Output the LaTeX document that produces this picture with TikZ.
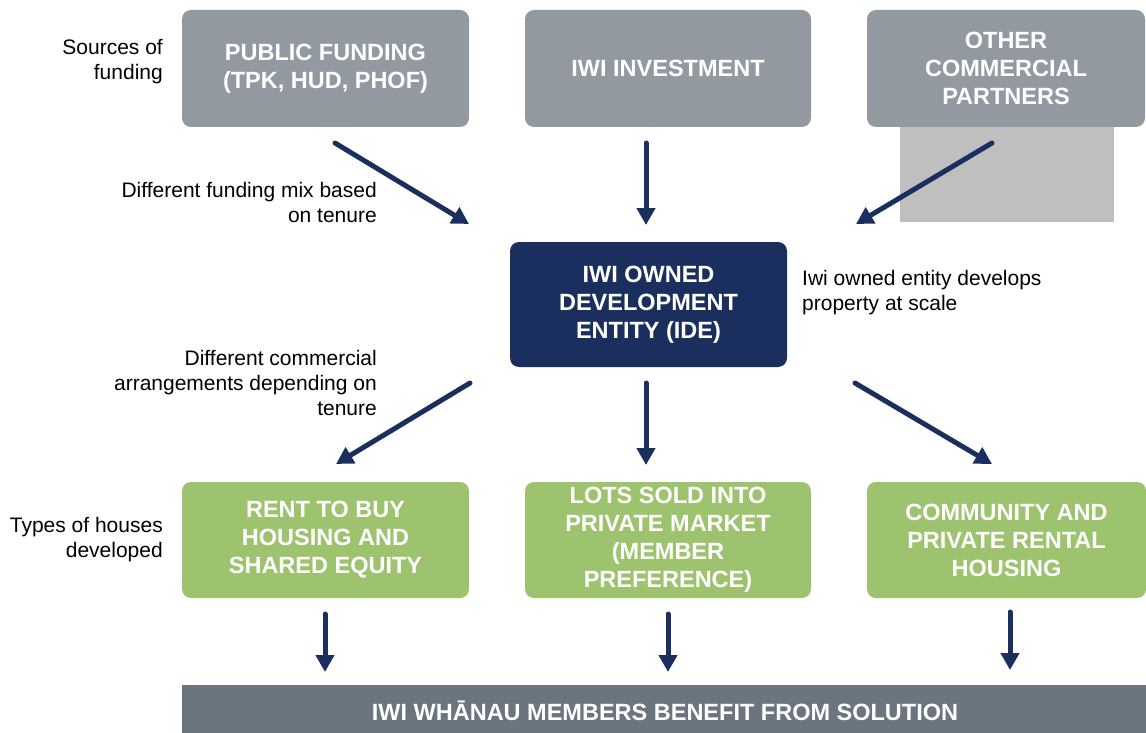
\documentclass[tikz,border=0pt]{standalone}
\usepackage{fontspec}
\setmainfont{Liberation Sans}
\usetikzlibrary{arrows.meta}

\definecolor{srcgray}{HTML}{9299A1}
\definecolor{backgray}{HTML}{BFBFBF}
\definecolor{idenavy}{HTML}{1B2F5E}
\definecolor{housegreen}{HTML}{9DC36E}
\definecolor{bargray}{HTML}{6B7580}

\tikzset{
  box/.style={rounded corners=9pt, inner sep=0pt, align=center, text=white,
    font=\fontsize{23.5}{28}\selectfont\bfseries},
  srcbox/.style={box, fill=srcgray, minimum height=117pt},
  housebox/.style={box, fill=housegreen, minimum height=116pt},
  idebox/.style={box, fill=idenavy, minimum width=277pt, minimum height=125pt},
  note/.style={inner sep=0pt, text=black, font=\fontsize{21}{25}\selectfont},
  flow/.style={draw=idenavy, line width=5pt, line cap=round,
    -{Triangle[length=17pt,width=18pt]}},
}

\begin{document}
\begin{tikzpicture}[x=1pt,y=-1pt]
\useasboundingbox (0,0) rectangle (1146,733);

% light panel behind the commercial partners box
\fill[backgray] (900,120) rectangle (1114,222);

% sources of funding
\node[srcbox, minimum width=287pt] (pub) at (325.5,68.5) {PUBLIC FUNDING\\(TPK, HUD, PHOF)};
\node[srcbox, minimum width=286pt] (inv) at (668,68.5) {IWI INVESTMENT};
\node[srcbox, minimum width=278pt] (oth) at (1006,68.5) {OTHER\\COMMERCIAL\\PARTNERS};

% development entity
\node[idebox] (ide) at (648.5,304.5) {IWI OWNED\\DEVELOPMENT\\ENTITY (IDE)};

% types of houses
\node[housebox, minimum width=287pt] (rtb) at (325.5,540) {RENT TO BUY\\HOUSING AND\\SHARED EQUITY};
\node[housebox, minimum width=286pt] (lots) at (668,540) {LOTS SOLD INTO\\PRIVATE MARKET\\(MEMBER\\PREFERENCE)};
\node[housebox, minimum width=279pt] (rent) at (1006.5,540) {COMMUNITY AND\\PRIVATE RENTAL\\HOUSING};

% outcome bar
\fill[bargray] (182,685) rectangle (1146,733);
\node[box] (out) at (665,711) {IWI WH\={A}NAU MEMBERS BENEFIT FROM SOLUTION};

% side notes
\node[note, align=right, anchor=east] (n1) at (163,62) {Sources of\\funding};
\node[note, align=right, anchor=east] (n2) at (377,202) {Different funding mix based\\on tenure};
\node[note, align=left, anchor=west] (n3) at (802,293) {Iwi owned entity develops\\property at scale};
\node[note, align=right, anchor=east] (n4) at (377,383) {Different commercial\\arrangements depending on\\tenure};
\node[note, align=right, anchor=east] (n5) at (163,540) {Types of houses\\developed};

% arrow end points
\coordinate (f1s) at (335,143);  \coordinate (f1e) at (469,224);
\coordinate (f2s) at (646,143);  \coordinate (f2e) at (646,225);
\coordinate (f3s) at (992,143);  \coordinate (f3e) at (856,224);
\coordinate (d1s) at (470,383);  \coordinate (d1e) at (336,464);
\coordinate (d2s) at (646,383);  \coordinate (d2e) at (646,465);
\coordinate (d3s) at (855,383);  \coordinate (d3e) at (992,464);
\coordinate (b1s) at (325,614);  \coordinate (b1e) at (325,672);
\coordinate (b2s) at (668,614);  \coordinate (b2e) at (668,672);
\coordinate (b3s) at (1010,612); \coordinate (b3e) at (1010,670);

\draw[flow] (f1s) -- (f1e);
\draw[flow] (f2s) -- (f2e);
\draw[flow] (f3s) -- (f3e);
\draw[flow] (d1s) -- (d1e);
\draw[flow] (d2s) -- (d2e);
\draw[flow] (d3s) -- (d3e);
\draw[flow] (b1s) -- (b1e);
\draw[flow] (b2s) -- (b2e);
\draw[flow] (b3s) -- (b3e);
\end{tikzpicture}
\end{document}
